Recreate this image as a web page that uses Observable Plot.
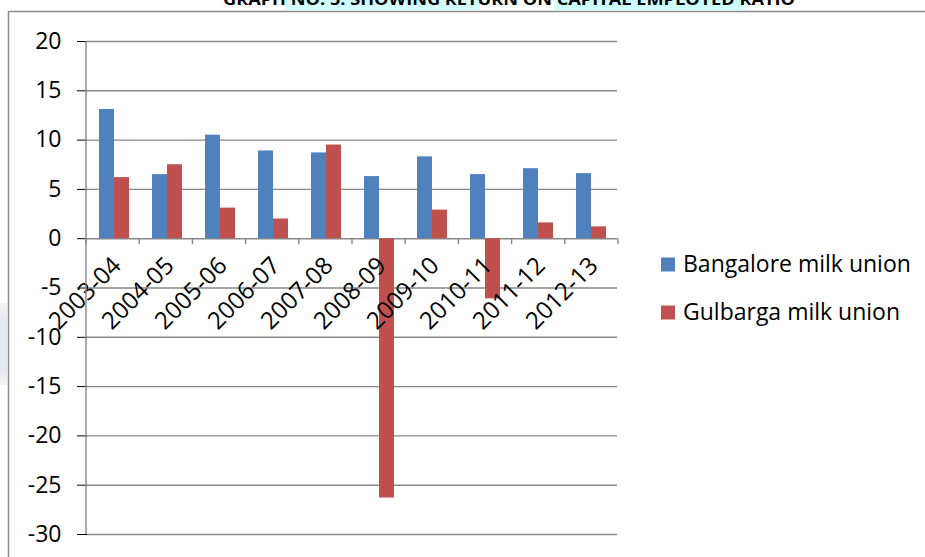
<!DOCTYPE html>
<html>
<head>
<meta charset="utf-8">
<script src="https://cdn.jsdelivr.net/npm/d3@7"></script>
<script src="https://cdn.jsdelivr.net/npm/@observablehq/plot@0.6"></script>
<style>
  html, body { margin: 0; padding: 0; background: #fff; overflow: hidden; }
  #chart { position: relative; width: 925px; height: 557px; }
  #chart svg { display: block; }
</style>
</head>
<body>
<div id="chart"></div>
<script>
// Return on capital employed ratio, two milk unions, 2003-04 to 2012-13
const years = ["2003-04", "2004-05", "2005-06", "2006-07", "2007-08",
               "2008-09", "2009-10", "2010-11", "2011-12", "2012-13"];
const seriesNames = ["Bangalore milk union", "Gulbarga milk union"];
const bangalore = [13.1, 6.5, 10.5, 8.9, 8.7, 6.3, 8.3, 6.5, 7.1, 6.6];
const gulbarga  = [6.2, 7.5, 3.1, 2.0, 9.5, -26.3, 2.9, -6.1, 1.6, 1.2];
const yTicks = [20, 15, 10, 5, 0, -5, -10, -15, -20, -25, -30];
const seriesColors = ["#4F81BD", "#C0504D"];
const titleText = "GRAPH NO. 5: SHOWING RETURN ON CAPITAL EMPLOYED RATIO";

const rows = years.flatMap((year, i) => [
  {year, series: seriesNames[0], value: bangalore[i]},
  {year, series: seriesNames[1], value: gulbarga[i]}
]);

const gridColor = "#878787";
const font = "'Open Sans', 'Noto Sans', sans-serif";

const chart = Plot.plot({
  width: 925,
  height: 557,
  marginLeft: 86,
  marginRight: 307,
  marginTop: 41,
  marginBottom: 23,
  style: {fontFamily: font, fontSize: "23px", color: "#000", background: "#fff"},
  facet: {data: rows, x: "year"},
  fx: {domain: years, padding: 0, axis: null, label: null},
  x: {domain: seriesNames, paddingInner: 0, paddingOuter: 0.75, axis: null},
  y: {domain: [-30, 20], ticks: yTicks, tickSize: 10, tickPadding: 16, tickFormat: d => String(d), label: null},
  color: {domain: seriesNames, range: seriesColors},
  marks: [
    Plot.ruleY(yTicks, {stroke: gridColor, strokeWidth: 1.4}),
    Plot.barY(rows, {x: "series", y: "value", fill: "series"}),
    // one year label per category, hung below the zero line
    Plot.text(rows, {
      filter: d => d.series === seriesNames[0],
      y: () => 0, text: "year",
      rotate: -45, textAnchor: "end", dx: 3, dy: 23,
      fill: "#000", fontSize: 24
    })
  ]
});

document.getElementById("chart").appendChild(chart);

const svg = d3.select(chart);
const fx = chart.scale("fx");
const y = chart.scale("y");
const color = chart.scale("color");

// grey value-axis ticks
svg.selectAll("[aria-label='y-axis'] line, [aria-label='y-axis'] path")
  .attr("stroke", gridColor).attr("stroke-width", 1.4);

// value axis line and category separators on the zero line
const step = (fx.range[1] - fx.range[0]) / years.length;
const x0 = fx.range[0];
const deco = svg.append("g").attr("stroke", gridColor).attr("stroke-width", 1.4);
deco.append("line")
  .attr("x1", x0).attr("x2", x0)
  .attr("y1", y.apply(20)).attr("y2", y.apply(-30));
const bounds = d3.range(years.length + 1).map(i => x0 + i * step);
deco.selectAll("line.cat").data(bounds).join("line")
  .attr("class", "cat")
  .attr("x1", d => d).attr("x2", d => d)
  .attr("y1", y.apply(0)).attr("y2", y.apply(0) + 6);

// chart area border and the faint edge of the page beside it
const under = svg.insert("g", ":first-child");
const fade = svg.append("defs").append("linearGradient")
  .attr("id", "edgeFade").attr("x1", 0).attr("y1", 0).attr("x2", 0).attr("y2", 1);
fade.append("stop").attr("offset", "0").attr("stop-color", "#f1f3f6");
fade.append("stop").attr("offset", "0.25").attr("stop-color", "#e3e7ee");
fade.append("stop").attr("offset", "0.8").attr("stop-color", "#e3e7ee");
fade.append("stop").attr("offset", "1").attr("stop-color", "#f3f4f6");
under.append("rect").attr("x", 0).attr("y", 303).attr("width", 7).attr("height", 82).attr("fill", "url(#edgeFade)");
const border = svg.append("g").attr("stroke", "#8c8c8c").attr("stroke-width", 1.5).attr("fill", "none");
border.append("path").attr("d", "M8.5,557V11.5H925");

// title strip at the top edge
const head = svg.insert("g", ":first-child");
head.append("rect").attr("x", 285).attr("y", 0).attr("width", 195).attr("height", 10).attr("fill", "#d2ffff");
head.append("rect").attr("x", 555).attr("y", 0).attr("width", 187).attr("height", 10).attr("fill", "#ccffff");
head.append("rect").attr("x", 742).attr("y", 0).attr("width", 8).attr("height", 10).attr("fill", "#e8ffff");
svg.append("text")
  .attr("x", 223).attr("y", 5)
  .attr("text-anchor", "start")
  .attr("font-family", font).attr("font-weight", "bold").attr("font-size", 16)
  .attr("textLength", 572).attr("lengthAdjust", "spacingAndGlyphs")
  .attr("fill", "#000")
  .text(titleText);

// legend
const legend = svg.append("g")
  .attr("font-family", font).attr("font-size", 23).attr("fill", "#000").attr("text-anchor", "start");
seriesNames.forEach((name, i) => {
  const top = 257.5 + i * 48;
  legend.append("rect").attr("x", 661).attr("y", top).attr("width", 14).attr("height", 14)
    .attr("fill", color.apply(name));
  legend.append("text").attr("x", 683).attr("y", top + 14).text(name);
});
</script>
</body>
</html>
